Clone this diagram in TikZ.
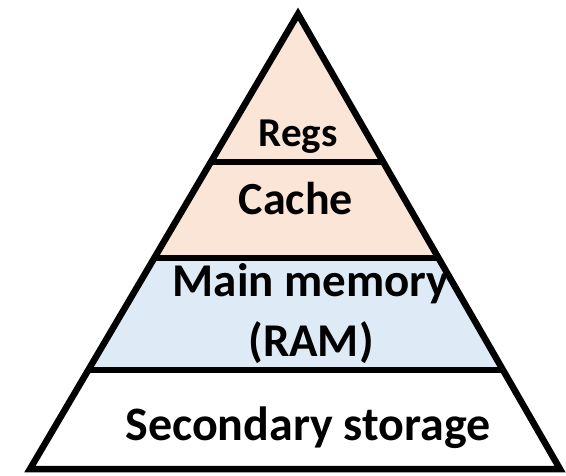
\documentclass[tikz,border=0pt]{standalone}
\usepackage{fontspec}
\setmainfont{Carlito}
\usetikzlibrary{calc}
\definecolor{peach}{HTML}{FBE5D6}
\definecolor{paleblue}{HTML}{DEEBF7}
\tikzset{
  outline/.style={line width=6.5pt, line join=miter, draw=black},
  divider/.style={line width=5.5pt, draw=black},
  label/.style={anchor=base, inner sep=0pt, font=\bfseries\fontsize{#1}{#1}\selectfont},
}
\begin{document}
\begin{tikzpicture}[x=1pt, y=-1pt]
  \useasboundingbox (0,0) rectangle (566,476);
  % corners of the pyramid
  \coordinate (apex) at (298,14);
  \coordinate (bl) at (30,469);
  \coordinate (br) at (560,469);
  % level boundaries on the two slanted sides
  \coordinate (l1) at ($(apex)!0.3253!(bl)$);
  \coordinate (r1) at ($(apex)!0.3253!(br)$);
  \coordinate (l2) at ($(apex)!0.5363!(bl)$);
  \coordinate (r2) at ($(apex)!0.5363!(br)$);
  \coordinate (l3) at ($(apex)!0.7824!(bl)$);
  \coordinate (r3) at ($(apex)!0.7824!(br)$);
  % level fills
  \fill[peach] (apex) -- (l2) -- (r2) -- cycle;
  \fill[paleblue] (l2) -- (l3) -- (r3) -- (r2) -- cycle;
  \fill[white] (l3) -- (bl) -- (br) -- (r3) -- cycle;
  % dividers and outline
  \draw[divider] (l1) -- (r1);
  \draw[divider] (l2) -- (r2);
  \draw[divider] (l3) -- (r3);
  \draw[outline] (apex) -- (bl) -- (br) -- cycle;
  % level labels
  \node[label=41] (regs) at (298,147) {Regs};
  \node[label=46] (cache) at (296,215) {Cache};
  \node[label=47] (mainA) at (311,297) {Main memory};
  \node[label=47] (mainB) at (311,356) {(RAM)};
  \node[label=48] (secondary) at (308,440) {Secondary storage};
\end{tikzpicture}
\end{document}
